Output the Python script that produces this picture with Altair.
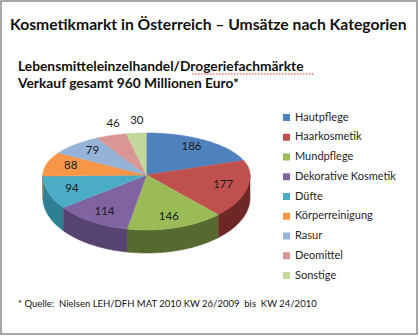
import altair as alt
import pandas as pd

categories = ["Hautpflege", "Haarkosmetik", "Mundpflege", "Dekorative Kosmetik", "Düfte",
              "Körperreinigung", "Rasur", "Deomittel", "Sonstige"]
values = [186, 177, 146, 114, 94, 88, 79, 46, 30]

top_colors = ["#4F81BD", "#C0504D", "#9BBB59", "#8064A2", "#4BACC6",
              "#F79646", "#95B3D7", "#D99694", "#C3D69B"]
side_colors = ["#2F4E75", "#6E2725", "#56692E", "#574372", "#2F7F94",
               "#B56A2A", "#6A84A8", "#A86A68", "#8FA36A"]

title_text = "Kosmetikmarkt in Österreich – Umsätze nach Kategorien"
subtitle_1 = "Lebensmitteleinzelhandel/Drogeriefachmärkte"
subtitle_2 = "Verkauf gesamt 960 Millionen Euro*"
footnote = "* Quelle:\u00a0 Nielsen LEH/DFH MAT 2010 KW 26/2009\u00a0 bis\u00a0 KW 24/2010"

W, H = 419, 336
CX, CY, RX, RB, RF, DEPTH = 146.5, 175, 103.5, 42, 55, 23
N = 40
FONT = "Lato"

df = pd.DataFrame({"cat": categories, "value": values, "order": list(range(len(categories)))})

xs = alt.Scale(domain=[0, W], range=[0, W], nice=False, zero=False)
ys = alt.Scale(domain=[0, H], range=[0, H], nice=False, zero=False)

base = alt.Chart(df).transform_window(
    cum="sum(value)", sort=[alt.SortField("order")]
).transform_joinaggregate(total="sum(value)").transform_calculate(
    a0="(datum.cum - datum.value) / datum.total * 2 * PI"
).transform_calculate(
    a1="datum.cum / datum.total * 2 * PI"
)

# side walls (front half only)
side = base.transform_calculate(
    s0="clamp(datum.a0, PI/2, 3*PI/2)"
).transform_calculate(
    s1="clamp(datum.a1, PI/2, 3*PI/2)"
).transform_calculate(
    k=f"sequence(0, {2 * N + 2})"
).transform_flatten(["k"]).transform_calculate(
    t=f"datum.k <= {N} ? datum.s0 + (datum.s1 - datum.s0) * datum.k / {N} : "
      f"datum.s0 + (datum.s1 - datum.s0) * ({2 * N + 1} - datum.k) / {N}"
).transform_calculate(
    px=f"{CX} + {RX} * sin(datum.t)"
).transform_calculate(
    py=f"{CY} - {RF} * cos(datum.t) + (datum.k > {N} ? {DEPTH} : 0)"
).mark_line(filled=True, strokeWidth=0.6).encode(
    x=alt.X("px:Q", scale=xs, axis=None),
    y=alt.Y("py:Q", scale=ys, axis=None),
    color=alt.Color("cat:N", scale=alt.Scale(domain=categories, range=side_colors), legend=None),
    stroke=alt.Stroke("cat:N", scale=alt.Scale(domain=categories, range=side_colors), legend=None),
    order=alt.Order("k:Q"),
)

# top faces
top = base.transform_calculate(
    k=f"sequence(0, {N + 2})"
).transform_flatten(["k"]).transform_calculate(
    t=f"datum.a0 + (datum.a1 - datum.a0) * (datum.k - 1) / {N}"
).transform_calculate(
    px=f"datum.k == 0 ? {CX} : {CX} + {RX} * sin(datum.t)"
).transform_calculate(
    py=f"datum.k == 0 ? {CY} : {CY} - (cos(datum.t) > 0 ? {RB} : {RF}) * cos(datum.t)"
).mark_line(filled=True, strokeWidth=0.6).encode(
    x=alt.X("px:Q", scale=xs, axis=None),
    y=alt.Y("py:Q", scale=ys, axis=None),
    color=alt.Color(
        "cat:N",
        scale=alt.Scale(domain=categories, range=top_colors),
        sort=categories,
        legend=alt.Legend(
            title=None, orient="none", legendX=281, legendY=112,
            symbolType="square", symbolSize=49, symbolStrokeWidth=0,
            labelFont=FONT, labelFontSize=11, labelColor="#262626",
            rowPadding=7.75, labelOffset=3,
        ),
    ),
    stroke=alt.Stroke("cat:N", scale=alt.Scale(domain=categories, range=top_colors), legend=None),
    order=alt.Order("k:Q"),
)

labels = base.transform_calculate(
    mid="(datum.a0 + datum.a1) / 2"
).transform_calculate(
    small="datum.value < 50"
).transform_calculate(
    lx=f"{CX} + {RX} * (datum.small ? 0.95 : 0.76) * sin(datum.mid)"
).transform_calculate(
    ly=f"{CY} - (cos(datum.mid) > 0 ? {RB} : {RF}) * (datum.small ? 1.29 : 0.8) * cos(datum.mid)"
).mark_text(font=FONT, fontSize=11.5, color="#1a1a1a", baseline="middle", align="center").encode(
    x=alt.X("lx:Q", scale=xs, axis=None),
    y=alt.Y("ly:Q", scale=ys, axis=None),
    text=alt.Text("value:Q"),
)

one = alt.Data(values=[{"a": 1}])

title = alt.Chart(one).mark_text(font=FONT, fontSize=15.7, fontWeight="bold", color="#111111",
                                 align="left", baseline="alphabetic").encode(
    x=alt.value(10), y=alt.value(30), text=alt.value(title_text))
sub1 = alt.Chart(one).mark_text(font=FONT, fontSize=13.8, fontWeight="bold", color="#111111",
                                align="left", baseline="alphabetic").encode(
    x=alt.value(18), y=alt.value(71), text=alt.value(subtitle_1))
sub2 = alt.Chart(one).mark_text(font=FONT, fontSize=13.8, fontWeight="bold", color="#111111",
                                align="left", baseline="alphabetic").encode(
    x=alt.value(18), y=alt.value(88), text=alt.value(subtitle_2))
squiggle = alt.Chart(one).mark_rule(color="#e03030", strokeWidth=1, strokeDash=[1.5, 1.5]).encode(
    x=alt.value(192), x2=alt.value(314), y=alt.value(74))
foot = alt.Chart(one).mark_text(font=FONT, fontSize=9.5, color="#111111",
                                align="left", baseline="alphabetic").encode(
    x=alt.value(18), y=alt.value(307), text=alt.value(footnote))
border = alt.Chart(one).mark_rect(filled=False, stroke="#8c8c8c", strokeWidth=1.5).encode(
    x=alt.value(1), x2=alt.value(417), y=alt.value(1), y2=alt.value(334))

chart = alt.layer(side, top, labels, title, sub1, sub2, squiggle, foot, border).resolve_scale(
    color="independent", stroke="independent"
).properties(
    width=W, height=H, padding=0, autosize=alt.AutoSizeParams(type="none"),
    background="white",
).configure_view(stroke=None)

chart.save("out.html", embed_options={"renderer": "svg", "actions": False})
